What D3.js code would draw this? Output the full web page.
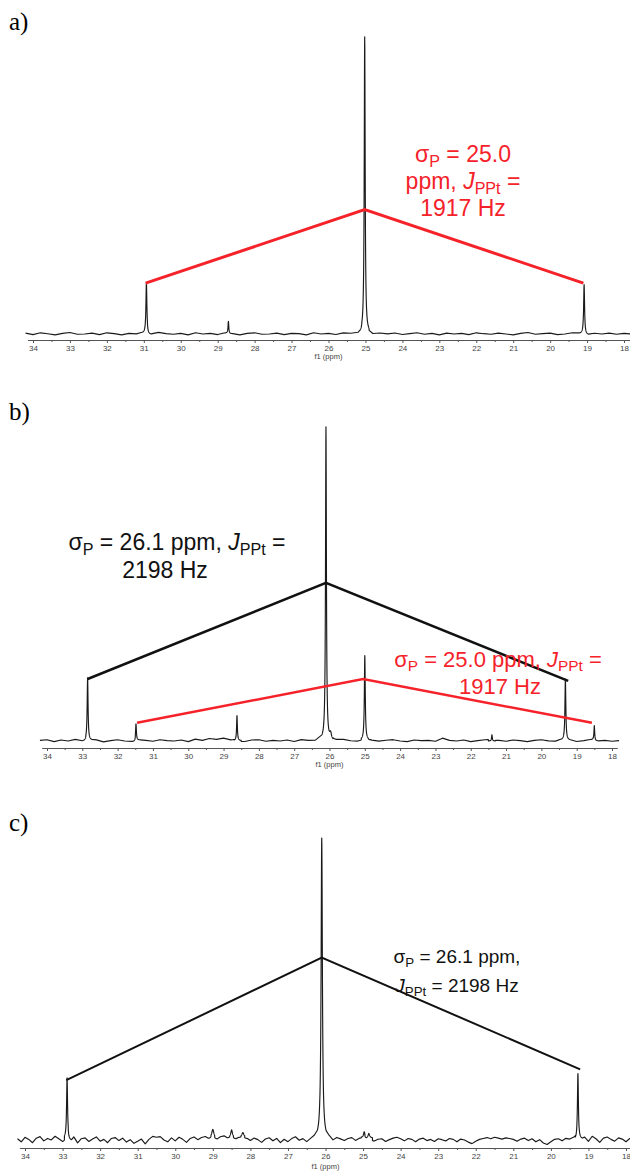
<!DOCTYPE html>
<html>
<head>
<meta charset="utf-8">
<script src="https://cdn.jsdelivr.net/npm/d3@7"></script>
<style>
  body { margin: 0; background: #fff; }
  svg { display: block; }
</style>
</head>
<body>
<div id="chart"></div>
<script>
// ─── DATA ───────────────────────────────────────────────────────
// axis (ppm)
const majorTicks = d3.range(18, 35, 1)
const minorTicks = d3.range(18.5, 34, 1)
const noiseStart = 34.2

// peaks: [ppm, height (% of tallest), half width (ppm)]
const peaksA = [[30.93, 17, 0.015], [28.71, 4, 0.012], [25.02, 100, 0.015], [19.08, 17, 0.015]]
const peaksB = [[32.85, 20, 0.015], [31.48, 5.2, 0.013], [28.62, 8, 0.013], [26.1, 100, 0.015],
  [25.97, 2, 0.03], [25.0, 27, 0.015], [21.4, 2, 0.012], [19.32, 19.5, 0.015], [18.5, 4.5, 0.013]]
const peaksC = [[32.88, 20, 0.015], [29.0, 2.6, 0.03], [28.5, 2.4, 0.025], [28.2, 1.4, 0.03],
  [26.1, 100, 0.02], [24.97, 1.8, 0.02], [24.85, 1.5, 0.03], [19.28, 22, 0.015]]

// baseline noise, a and b: one value every 0.2 ppm from 34.2 down to 17.8
const noiseA = [0.3, -0.2, 0.4, 0.1, -0.3, 0.2, 0.5, -0.1, 0.0, 0.3,
  -0.2, 0.4, 0.1, -0.3, 0.2, 0.0, 0.3, -0.2, 0.5, 0.1,
  -0.1, 0.2, -0.3, 0.4, 0.0, 0.2, -0.2, 0.3, 0.1, -0.3,
  0.2, 0.4, -0.1, 0.0, 0.3, -0.2, 0.2, 0.1, -0.3, 0.4,
  0.0, 0.2, -0.2, 0.3, 0.1, -0.1, 0.4, -0.3, 0.2, 0.0,
  0.3, -0.2, 0.1, 0.4, -0.1, 0.2, -0.3, 0.3, 0.0, 0.2,
  -0.2, 0.4, 0.1, -0.1, 0.3, 0.0, -0.3, 0.2, 0.5, -0.1,
  0.1, 0.3, -0.2, 0.0, 0.4, 0.1, -0.3, 0.2, 0.0, 0.3,
  -0.1, 0.2, 0.0]
const noiseB = [0.2, 0.4, -0.2, 0.3, 0.0, 0.5, -0.1, 0.2, 0.3, -0.3,
  0.1, 0.4, 0.0, -0.2, 0.3, 0.2, -0.1, 0.4, 0.1, 0.0,
  0.3, -0.2, 0.6, 0.2, 0.8, 0.5, 0.9, 0.3, 0.1, -0.2,
  0.3, 0.4, -0.1, 0.2, 0.0, 0.3, -0.2, 0.4, 0.1, 0.0,
  0.3, -0.1, 0.2, 0.4, 0.0, -0.2, 0.3, 0.1, -0.1, 0.2,
  0.4, 0.0, -0.2, 0.3, 0.1, 0.2, -0.1, 0.9, 0.2, 0.0,
  0.3, -0.2, 0.1, 0.4, 0.0, 0.2, -0.1, 0.3, 0.1, -0.2,
  0.2, 0.4, 0.0, -0.1, 0.3, 0.2, -0.2, 0.1, 0.4, 0.0,
  0.2, -0.1, 0.1]
// c is noisier: one value every 0.1 ppm from 34.2 down to 17.8
const noiseC = [0.4, -0.6, 0.9, 0.2, -0.9, 0.6, 1.1, -0.3, 0.5, 0.0,
  1.2, 0.3, -0.8, 0.6, -0.2, 0.9, -1.0, 0.4, 0.7, -0.5,
  0.3, 1.0, -0.4, 0.2, -0.9, 0.5, 0.8, -0.2, 0.6, -0.7,
  0.1, -1.1, -0.4, 0.3, -1.3, 0.2, 1.2, 0.9, 1.1, 0.0,
  -0.6, 0.7, -0.3, 0.9, 0.2, -0.8, 0.5, 1.0, 0.1, 0.8,
  1.1, 0.4, 0.9, 0.2, 1.0, 1.3, 0.6, 0.9, 0.3, 0.7,
  1.0, 0.4, -0.2, 0.6, 0.1, -0.8, 0.3, 0.7, -0.3, 0.5,
  -0.9, 0.2, -0.6, 0.4, 1.0, -0.2, 0.3, -0.8, 0.1, 0.6,
  0.4, 0.0, 0.3, 0.5, -0.4, 0.6, 0.2, -0.3, 0.4, 0.7,
  -0.2, 0.5, 0.8, 0.3, 0.6, -0.4, 0.2, 0.4, -0.5, 0.1,
  0.6, 0.9, 0.4, -0.3, 0.5, 0.2, -0.6, 0.3, 0.6, -0.2,
  0.2, -0.5, 0.4, 0.1, -0.3, 0.5, 0.2, -0.6, 0.3, 0.0,
  -0.7, -1.2, -0.4, 0.2, 0.5, 0.8, 0.4, 0.9, 0.6, 0.3,
  0.7, 0.5, 0.2, -0.4, 0.3, 0.6, -0.2, 0.4, -0.6, 0.1,
  -1.0, -1.5, -0.6, 0.2, 0.4, -0.3, 0.5, 0.2, 0.6, 0.0,
  0.3, 0.8, -0.5, 1.2, 0.4, -0.8, 0.6, 1.0, 0.2, -0.4,
  0.7, 0.3, -0.6, 0.5, 0.1]

// coupling brackets: [ppm, height]
const bracketA = [[30.95, 17.2], [25.02, 42], [19.1, 17.2]]
const bracketB1 = [[32.85, 19.8], [26.1, 50.5], [19.24, 19.2]]
const bracketB2 = [[31.45, 5.8], [25.05, 19.8], [18.57, 5.8]]
const bracketC = [[32.9, 19.8], [26.1, 60.4], [19.22, 23.4]]

// ─── LAYOUT ───────────────────────────────────────────────────────
const W = 630, H = 1171
const RED = '#f5222a'

const svg = d3.select('#chart').append('svg')
  .attr('width', W).attr('height', H)
  .attr('font-family', '"Liberation Sans", Arial, sans-serif')

// pixel anchors for each panel: x of 34 ppm, x of 18 ppm, baseline y, top of tallest peak, axis y
const panels = [
  { label: 'a)', labelY: 30, x34: 33, x18: 624, base: 334, top: 38, axisY: 340, f1Y: 359, peaks: peaksA, noise: noiseA, step: 0.2 },
  { label: 'b)', labelY: 420, x34: 47, x18: 612, base: 741, top: 428, axisY: 748, f1Y: 767, peaks: peaksB, noise: noiseB, step: 0.2 },
  { label: 'c)', labelY: 831, x34: 25, x18: 626, base: 1140, top: 838, axisY: 1148, f1Y: 1169, peaks: peaksC, noise: noiseC, step: 0.1 }
]

function lorentz(peaks, p) {
  return d3.sum(peaks, pk => pk[1] / (1 + ((p - pk[0]) / pk[2]) ** 2))
}

function spectrum(peaks, noise, step) {
  const win = 0.12
  const nearest = p => noise[Math.max(0, Math.min(noise.length - 1, Math.round((noiseStart - p) / step)))]
  const pts = []
  noise.forEach((n, i) => {
    const p = noiseStart - i * step
    if (!peaks.some(pk => Math.abs(p - pk[0]) < win)) pts.push([p, n + lorentz(peaks, p)])
  })
  peaks.forEach(pk => {
    for (let p = pk[0] - win; p <= pk[0] + win; p += 0.003) pts.push([p, nearest(p) + lorentz(peaks, p)])
  })
  return pts.sort((a, b) => b[0] - a[0])
}

function richText(g, x, y, parts, size, color) {
  const t = g.append('text')
    .attr('x', x).attr('y', y)
    .attr('text-anchor', 'middle')
    .attr('font-size', size)
    .attr('fill', color)
  let shifted = false
  parts.forEach(pt => {
    const ts = t.append('tspan').text(pt.t)
    if (pt.i) ts.attr('font-style', 'italic')
    if (pt.sub) {
      ts.attr('font-size', size * 0.7)
      if (!shifted) ts.attr('dy', size * 0.2)
      shifted = true
    } else if (shifted) {
      ts.attr('dy', -size * 0.2)
      shifted = false
    }
  })
}

panels.forEach(pn => {
  const g = svg.append('g')

  const x = d3.scaleLinear().domain([34, 18]).range([pn.x34, pn.x18])
  const y = d3.scaleLinear().domain([0, 100]).range([pn.base, pn.top])
  const xAxisScale = d3.scaleLinear().domain([34.15, 17.85]).range([x(34.15), x(17.85)])

  // panel letter
  g.append('text')
    .attr('x', 9).attr('y', pn.labelY)
    .attr('font-family', '"Liberation Serif", "Times New Roman", serif')
    .attr('font-size', 25)
    .text(pn.label)

  // ─── AXIS ───
  const ax = g.append('g').attr('transform', `translate(0, ${pn.axisY})`)
  ax.call(d3.axisBottom(xAxisScale).tickValues(majorTicks).tickSize(3).tickSizeOuter(0).tickPadding(2).tickFormat(d3.format('d')))
  ax.append('g').call(d3.axisBottom(xAxisScale).tickValues(minorTicks).tickSize(2).tickSizeOuter(0).tickFormat(''))
    .select('.domain').remove()
  ax.selectAll('path, line').attr('stroke', '#555')
  ax.selectAll('text').attr('fill', '#444').attr('font-size', 8).attr('font-family', '"Liberation Sans", Arial, sans-serif')
  g.append('text')
    .attr('x', (pn.x34 + pn.x18) / 2).attr('y', pn.f1Y)
    .attr('text-anchor', 'middle')
    .attr('font-size', 7.5).attr('fill', '#444')
    .text('f1 (ppm)')

  // ─── SPECTRUM ───
  const line = d3.line().x(d => x(d[0])).y(d => y(d[1]))
  g.append('path')
    .datum(spectrum(pn.peaks, pn.noise, pn.step))
    .attr('fill', 'none')
    .attr('stroke', '#1a1a1a')
    .attr('stroke-width', 1.15)
    .attr('stroke-linejoin', 'round')
    .attr('d', line)

  pn.x = x
  pn.y = y
  pn.g = g
})

// ─── BRACKETS + ANNOTATIONS ───
function bracket(pn, data, color, width) {
  pn.g.append('path')
    .datum(data)
    .attr('fill', 'none')
    .attr('stroke', color)
    .attr('stroke-width', width)
    .attr('d', d3.line().x(d => pn.x(d[0])).y(d => pn.y(d[1])))
}

const [pa, pb, pc] = panels
bracket(pa, bracketA, RED, 3)
richText(pa.g, 463, 162, [{ t: 'σ' }, { t: 'P', sub: true }, { t: ' = 25.0' }], 23, RED)
richText(pa.g, 463, 189, [{ t: 'ppm,  ' }, { t: 'J', i: true }, { t: 'PPt', sub: true }, { t: ' =' }], 23, RED)
richText(pa.g, 463, 216, [{ t: '1917 Hz' }], 23, RED)

bracket(pb, bracketB1, '#111', 2.5)
bracket(pb, bracketB2, RED, 2.5)
richText(pb.g, 177, 550, [{ t: 'σ' }, { t: 'P', sub: true }, { t: ' = 26.1 ppm, ' }, { t: 'J', i: true }, { t: 'PPt', sub: true }, { t: ' =' }], 23, '#111')
richText(pb.g, 165, 578, [{ t: '2198 Hz' }], 23, '#111')
richText(pb.g, 498, 667, [{ t: 'σ' }, { t: 'P', sub: true }, { t: ' = 25.0 ppm, ' }, { t: 'J', i: true }, { t: 'PPt', sub: true }, { t: ' =' }], 22, RED)
richText(pb.g, 500, 694, [{ t: '1917 Hz' }], 22, RED)

bracket(pc, bracketC, '#111', 2)
richText(pc.g, 457, 963, [{ t: 'σ' }, { t: 'P', sub: true }, { t: ' = 26.1 ppm,' }], 19, '#111')
richText(pc.g, 457, 992, [{ t: 'J', i: true }, { t: 'PPt', sub: true }, { t: ' = 2198 Hz' }], 19, '#111')
</script>
</body>
</html>
